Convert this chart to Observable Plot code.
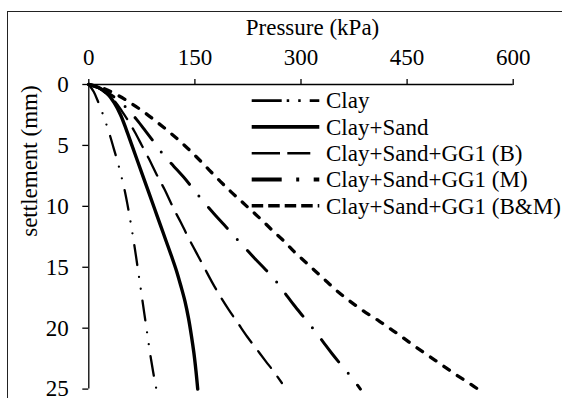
<!DOCTYPE html>
<html>
<head>
<meta charset="utf-8">
<script src="https://cdn.jsdelivr.net/npm/d3@7"></script>
<script src="https://cdn.jsdelivr.net/npm/@observablehq/plot@0.6"></script>
<style>
  html, body { margin: 0; padding: 0; background: #fff; }
  #wrap { position: relative; width: 562px; height: 398px; overflow: hidden; }
  #frame { position: absolute; left: 7px; top: 11px; width: 700px; height: 500px;
           border-top: 1px solid #222; border-left: 1px solid #222; }
  #chart, #legend { position: absolute; left: 0; top: 0; }
  #legend { pointer-events: none; }
  svg text { font-family: "Liberation Serif", Tinos, "DejaVu Serif", serif !important; }
</style>
</head>
<body>
<div id="wrap">
  <div id="frame"></div>
  <div id="chart"></div>
  <svg id="legend" width="562" height="398"></svg>
</div>
<script>
// Load–settlement curves: [pressure (kPa), settlement (mm)]
const clay = [[0,0],[7,0.6],[13,1.4],[19,2.3],[25,3.3],[30,4.2],[35,5.2],[40,6.2],[45,7.3],[50,8.5],[54.5,9.8],[58.5,11.1],[62.5,12.5],[66.5,14],[70.5,15.6],[74.5,17.2],[78.5,18.8],[82.5,20.4],[86.5,22],[91,23.6],[95.5,25]];
const claySand = [[0,0],[14,0.25],[26,0.75],[36,1.5],[45,2.5],[53,3.7],[61,5],[69,6.3],[77,7.6],[85,8.9],[93,10.2],[101,11.5],[109,12.8],[117,14.1],[124,15.3],[130,16.5],[136,17.8],[141,19.2],[145,20.6],[148.5,22],[151.5,23.5],[154,25]];
const ggB = [[0,0],[14,0.3],[26,0.8],[37,1.4],[47,2.2],[56,3],[65,3.9],[75,5],[85,6.1],[96,7.4],[107,8.6],[120,10.2],[130,11.3],[141,12.6],[152,13.8],[163,15],[174,16.2],[186,17.4],[198,18.5],[211,19.6],[224,20.7],[237,21.7],[250,22.7],[262,23.6],[273,24.5]];
const ggM = [[0,0],[15,0.3],[30,0.8],[44,1.4],[56,2.1],[68,2.9],[80,3.8],[93,4.8],[106,5.8],[120,6.7],[134,7.6],[148,8.6],[162,9.6],[177,10.6],[191,11.5],[205,12.4],[220,13.35],[235,14.3],[250,15.2],[264,16.1],[277,17.1],[290,18.1],[304,19.1],[318,20.1],[331,21.1],[344,22.1],[358,23.1],[371,24],[384,25]];
const ggBM = [[0,0],[20,0.3],[40,0.85],[60,1.55],[80,2.35],[100,3.25],[120,4.2],[140,5.25],[160,6.4],[180,7.6],[200,8.75],[215,9.55],[230,10.35],[245,11.15],[260,12],[275,12.8],[290,13.7],[305,14.5],[320,15.3],[335,16.1],[350,16.9],[365,17.6],[380,18.25],[395,18.85],[410,19.4],[425,20],[440,20.6],[460,21.45],[480,22.25],[500,23.05],[520,23.85],[540,24.6],[550,25]];

const seriesNames = ["Clay", "Clay+Sand", "Clay+Sand+GG1 (B)", "Clay+Sand+GG1 (M)", "Clay+Sand+GG1 (B&M)"];
const seriesData = [clay, claySand, ggB, ggM, ggBM];
const xTicks = [0, 150, 300, 450, 600];
const yTicks = [0, 5, 10, 15, 20, 25];
const xTitle = "Pressure (kPa)";
const yTitle = "settlement (mm)";

// Line styles for each series on the plot and in the legend
const lineStyle = {
  "Clay":                 {w: 2.3, dash: "20,12,0,12,0,12", cap: "round", key: "30,5,2.5,9,2.5,9,30", keyW: 2.6},
  "Clay+Sand":            {w: 3.4, dash: null, cap: "round", key: null, keyW: 3.6},
  "Clay+Sand+GG1 (B)":    {w: 2.3, dash: "21,11", cap: "round", key: "28.3,7.3,23,12", keyW: 2.6},
  "Clay+Sand+GG1 (M)":    {w: 3.0, dash: "28,15,0,15", cap: "round", key: "30,14.5,3,14.5,30", keyW: 4},
  "Clay+Sand+GG1 (B&M)":  {w: 3.3, dash: "6.7,9.6", cap: "round", key: "11.5,5", keyW: 3.6}
};

const font = "Liberation Serif, Tinos, DejaVu Serif, serif";

const lines = seriesNames.map((name, i) => {
  const s = lineStyle[name];
  return Plot.line(seriesData[i], {
    x: d => d[0], y: d => d[1],
    stroke: "#000", strokeWidth: s.w,
    strokeDasharray: s.dash || undefined,
    strokeLinecap: s.cap, strokeLinejoin: "round",
    curve: "catmull-rom"
  });
});

const chart = Plot.plot({
  width: 562, height: 398,
  marginLeft: 88.3, marginRight: 49.3, marginTop: 84, marginBottom: 9.4,
  style: {fontFamily: font, fontSize: "23px", color: "#000", background: "transparent", overflow: "visible"},
  x: {domain: [0, 600]},
  y: {domain: [0, 25], reverse: true},
  marks: [
    ...lines,
    Plot.axisX({anchor: "top", ticks: xTicks, tickSize: 6, tickPadding: 13.5, tickFormat: d => String(d), label: null, strokeWidth: 1.3}),
    Plot.axisY({anchor: "left", ticks: yTicks, tickSize: 6, tickPadding: 14, tickFormat: d => String(d), label: null, strokeWidth: 1.3}),
    Plot.ruleY([0], {stroke: "#000", strokeWidth: 1.3}),
    Plot.ruleX([0], {stroke: "#000", strokeWidth: 1.3}),
    Plot.text([xTitle], {text: d => d, frameAnchor: "top", dx: 11.5, dy: -50, lineAnchor: "bottom", fill: "#000"}),
    Plot.text([yTitle], {text: d => d, frameAnchor: "left", dx: -59, rotate: -90, fill: "#000"})
  ]
});
document.getElementById("chart").appendChild(chart);

// Legend: line sample + label per series
const legend = d3.select("#legend");
const keyX0 = 251.7, keyX1 = 319.3, labelX = 326, rowY0 = 100.6, rowStep = 26.3;
seriesNames.forEach((name, i) => {
  const s = lineStyle[name];
  const y = rowY0 + i * rowStep;
  legend.append("line")
    .attr("x1", keyX0).attr("x2", keyX1).attr("y1", y).attr("y2", y)
    .attr("stroke", "#000").attr("stroke-width", s.keyW)
    .attr("stroke-dasharray", s.key)
    .attr("stroke-linecap", "butt");
  legend.append("text")
    .attr("x", labelX).attr("y", y + 7.8)
    .attr("font-size", 23).attr("fill", "#000")
    .text(name);
});
</script>
</body>
</html>
